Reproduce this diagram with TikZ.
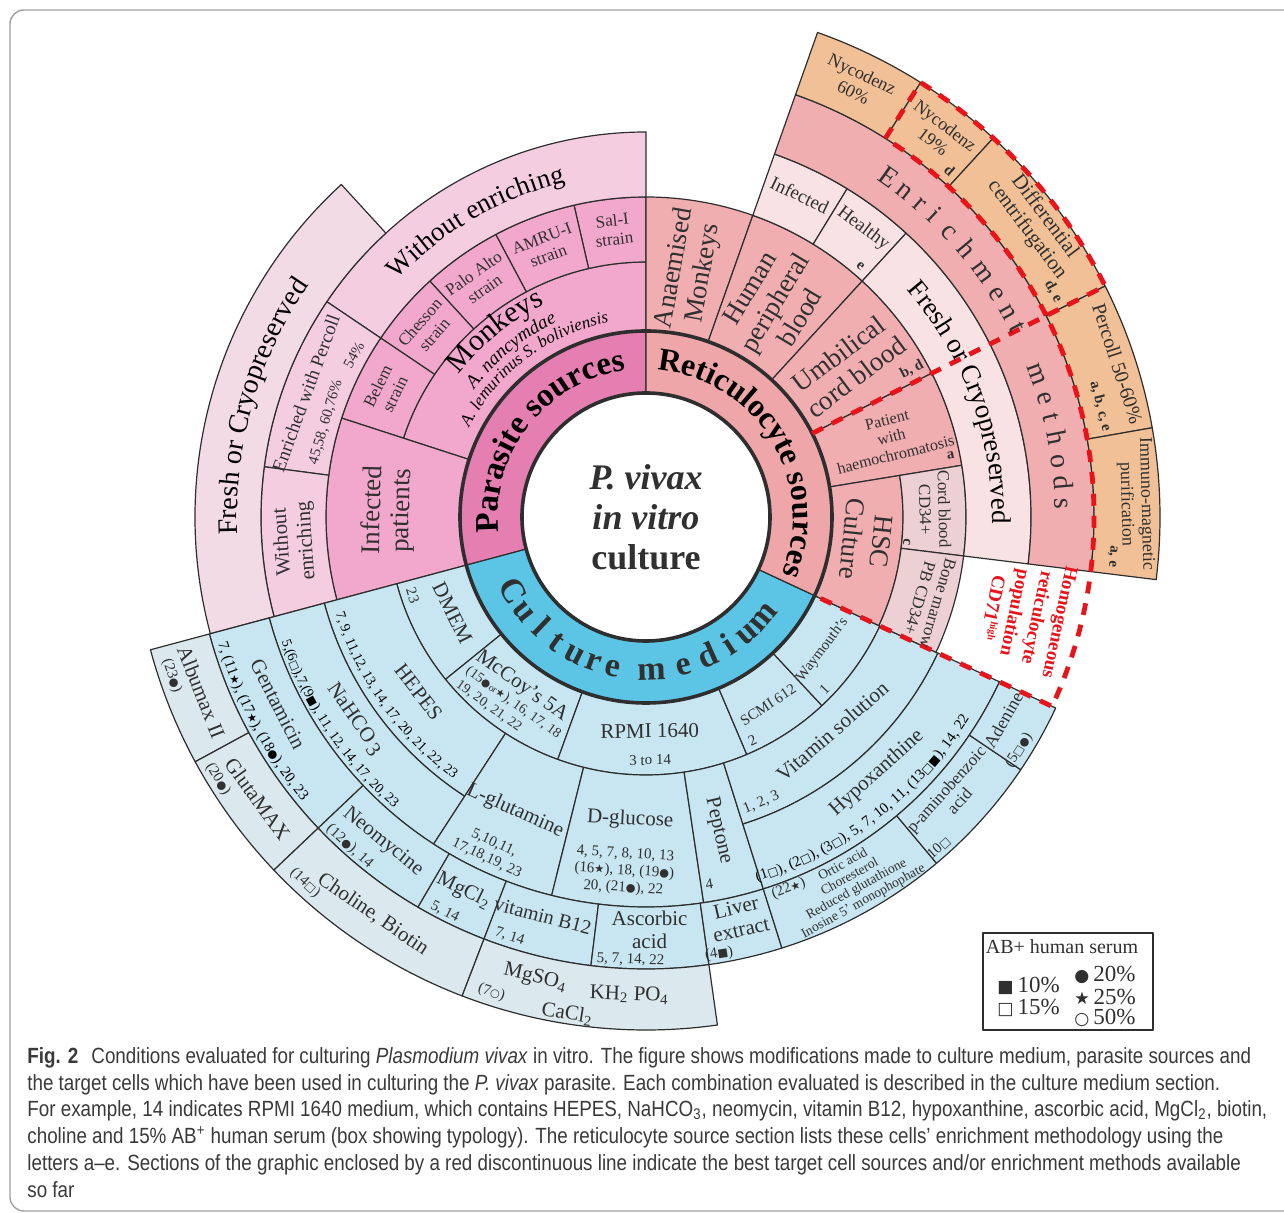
\documentclass[tikz,border=0pt]{standalone}
\usepackage{fontspec}
\usepackage{graphicx}
\setmainfont{Liberation Serif}
\newfontfamily\dejavu{DejaVu Sans}
\newfontfamily\capfont{Liberation Sans}[FakeStretch=0.855]
\usetikzlibrary{decorations.text}

\definecolor{linec}{HTML}{2E2E2E}
\definecolor{txtc}{HTML}{303030}
\definecolor{parring}{HTML}{E57EB1}
\definecolor{parmid}{HTML}{F2A8CC}
\definecolor{parlight}{HTML}{F5CDE0}
\definecolor{parpale}{HTML}{F3DBE6}
\definecolor{retring}{HTML}{EEA6A8}
\definecolor{retmid}{HTML}{F0AEB0}
\definecolor{retpale}{HTML}{F8E2E4}
\definecolor{retmauve}{HTML}{ECD0D3}
\definecolor{orangeb}{HTML}{F1C096}
\definecolor{culring}{HTML}{5CC5E5}
\definecolor{cullight}{HTML}{C8E6F2}
\definecolor{culgrey}{HTML}{DBE9EF}
\definecolor{redd}{HTML}{E8141B}
\definecolor{captc}{HTML}{3A3A3A}
\definecolor{framec}{HTML}{A0A0A0}

\newcommand\bdot{\scalebox{0.75}{\dejavu ●}}
\newcommand\bstar{\scalebox{0.75}{\dejavu ★}}
\newcommand\bsq{\scalebox{0.75}{\dejavu ■}}
\newcommand\wsq{\scalebox{0.75}{\dejavu □}}
\newcommand\wcirc{\scalebox{0.75}{\dejavu ○}}

\newcommand\fbig{\fontsize{13.5}{14.5}\selectfont}
\newcommand\fmid{\fontsize{10.5}{11.5}\selectfont}
\newcommand\fsml{\fontsize{8.5}{9.5}\selectfont}
\newcommand\fnum{\fontsize{7.5}{8.5}\selectfont}
\newcommand\fkey{\bfseries\fontsize{7.5}{8}\selectfont}

% annular cell: start angle, end angle, inner radius, outer radius, fill
\newcommand\wedgecell[5]{%
  \filldraw[cell, fill=#5] (#1:#3) arc[start angle=#1, end angle=#2, radius=#3]
    -- (#2:#4) arc[start angle=#2, end angle=#1, radius=#4] -- cycle;}
% curved text: radius of baseline, centre angle, half span, text
\newcommand\arcout[4]{\path[decorate, color=txtc, decoration={text along path, text align=center, text={#4}}]
  (#2+#3:#1) arc[start angle=#2+#3, end angle=#2-#3, radius=#1];}
\newcommand\arcin[4]{\path[decorate, color=txtc, decoration={text along path, text align=center, text={#4}}]
  (#2-#3:#1) arc[start angle=#2-#3, end angle=#2+#3, radius=#1];}

\begin{document}
\begin{tikzpicture}[x=0.5pt, y=0.5pt, line join=round,
  cell/.style={draw=linec, line width=0.6pt},
  lab/.style={inner sep=0pt, align=center, text=txtc},
  ringline/.style={draw=linec, line width=1.8pt},
  reddash/.style={draw=redd, line width=2.4pt, dash pattern=on 6pt off 5pt},
  capline/.style={anchor=base west, inner sep=0pt, text=captc, font=\capfont\fontsize{11}{12}\selectfont}]

\useasboundingbox (-646,-696) rectangle (638,517);
\fill[white] (-646,-696) rectangle (638,517);
\begin{scope}
  \clip (-646,-696) rectangle (638,517);
  \draw[framec, line width=0.7pt, rounded corners=7pt] (-636,507) rectangle (700,-694);
\end{scope}

% parasite sources
\wedgecell{90}{195}{124}{186}{parring}
\wedgecell{90}{162}{186}{255}{parmid}
\wedgecell{90}{103}{255}{320}{parmid}
\wedgecell{103}{118}{255}{320}{parmid}
\wedgecell{118}{132.5}{255}{320}{parmid}
\wedgecell{132.5}{146}{255}{320}{parmid}
\wedgecell{146}{162}{255}{320}{parmid}
\wedgecell{162}{195}{186}{320}{parmid}
\wedgecell{90}{146}{320}{385}{parlight}
\wedgecell{146}{172.5}{320}{385}{parlight}
\wedgecell{172.5}{195}{320}{385}{parlight}
\wedgecell{132.5}{195}{385}{451}{parpale}

% culture medium
\wedgecell{195}{335}{124}{186}{culring}
\wedgecell{195}{219}{186}{258}{cullight}
\wedgecell{219}{250}{186}{258}{cullight}
\wedgecell{250}{293}{186}{258}{cullight}
\wedgecell{293}{313}{186}{258}{cullight}
\wedgecell{313}{335}{186}{258}{cullight}
\wedgecell{195}{237}{258}{333}{cullight}
\wedgecell{195}{237}{333}{390}{cullight}
\wedgecell{237}{256}{258}{390}{cullight}
\wedgecell{256}{278.5}{258}{390}{cullight}
\wedgecell{278.5}{287.5}{258}{390}{cullight}
\wedgecell{287.5}{335}{258}{322}{cullight}
\wedgecell{287.5}{335}{322}{390}{cullight}
\wedgecell{195}{223.5}{390}{452}{cullight}
\wedgecell{223.5}{239.7}{390}{452}{cullight}
\wedgecell{239.7}{249}{390}{452}{cullight}
\wedgecell{249}{263}{390}{452}{cullight}
\wedgecell{263}{278}{390}{452}{cullight}
\wedgecell{278}{287.5}{390}{452}{cullight}
\wedgecell{287.5}{310}{390}{452}{cullight}
\wedgecell{310}{326}{390}{452}{cullight}
\wedgecell{326}{335}{390}{452}{cullight}
\wedgecell{195}{208.5}{452}{513}{culgrey}
\wedgecell{208.5}{223.5}{452}{513}{culgrey}
\wedgecell{223.5}{249}{452}{513}{culgrey}
\wedgecell{249}{278}{452}{513}{culgrey}

% reticulocyte sources
\wedgecell{-25}{90}{124}{186}{retring}
\wedgecell{70.5}{90}{186}{320}{retmid}
\wedgecell{47.5}{70.5}{186}{320}{retmid}
\wedgecell{26.7}{47.5}{186}{320}{retmid}
\wedgecell{9.3}{26.7}{186}{320}{retmid}
\wedgecell{-25}{9.3}{186}{257}{retmid}
\wedgecell{-7}{9.3}{257}{320}{retmauve}
\wedgecell{-25}{-7}{257}{320}{retmauve}
\wedgecell{58.5}{70.5}{320}{385}{retpale}
\wedgecell{47.5}{58.5}{320}{385}{retpale}
\wedgecell{-7}{47.5}{320}{385}{retpale}
\wedgecell{-7}{70.5}{385}{448}{retmid}
\wedgecell{57.7}{70.5}{448}{514}{orangeb}
\wedgecell{47.5}{57.7}{448}{514}{orangeb}
\wedgecell{26.7}{47.5}{448}{514}{orangeb}
\wedgecell{10}{26.7}{448}{514}{orangeb}
\wedgecell{-7}{10}{448}{514}{orangeb}

\fill[white] (0,0) circle[radius=124];
\draw[ringline] (0,0) circle[radius=124];
\draw[ringline] (0,0) circle[radius=186];

\draw[reddash] (26.7:186) -- (26.7:514) arc[start angle=26.7, end angle=57.7, radius=514]
  -- (57.7:448) arc[start angle=57.7, end angle=-25, radius=448] -- (-25:186);

% centre and ring titles
\node[lab, font=\bfseries\fontsize{18}{20}\selectfont] (title) at (0,0) {\textit{P. vivax}\\\textit{in vitro}\\culture};
\arcout{148}{142}{60}{|\bfseries\fontsize{16.5}{16.5}\selectfont|Parasite sources}
\arcout{147}{31.5}{65}{|\bfseries\fontsize{16}{16}\selectfont|Reticulocyte sources}
\foreach \a/\c [count=\i] in {209/C,218/u,226.5/l,234.5/t,242.5/u,250/r,257.5/e,272/m,284/e,294/d,303/i,311/u,319.5/m}
  \node[lab, anchor=base, rotate=\a+90, font=\bfseries\fontsize{17}{17}\selectfont] (cm\i) at (\a:163) {\c};

% parasite labels
\arcout{235}{129}{40}{|\fontsize{15}{15}\selectfont|Monkeys}
\arcout{214}{129}{40}{|\itshape\fontsize{9.5}{9.5}\selectfont|A. nancymdae}
\arcout{198}{127}{40}{|\itshape\fontsize{8.5}{8.5}\selectfont|A. lemurinus S. boliviensis}
\node[lab, font=\fsml, rotate=6.5] (sal) at (96.5:289) {Sal-I\\strain};
\node[lab, font=\fsml, rotate=20.5] (amru) at (110.5:288) {AMRU-I\\strain};
\node[lab, font=\fsml, rotate=35.3] (palo) at (125.3:289) {Palo Alto\\strain};
\node[lab, font=\fsml, rotate=49.3] (chesson) at (139.3:289) {Chesson\\strain};
\node[lab, font=\fsml, rotate=64] (belem) at (154:289) {Belem\\strain};
\node[lab, font=\fbig, rotate=88.5] (infpat) at (178.5:258) {Infected\\patients};
\node[lab, font=\fontsize{10.5}{12}\selectfont, rotate=94] (woenr) at (184:352) {Without\\enriching};
\node[lab, font=\fontsize{9.5}{10}\selectfont, rotate=70] (enrperc) at (160:362) {Enriched with Percoll};
\node[lab, font=\fnum, rotate=73.5] (perc1) at (163.5:334) {45,58, 60,76\%};
\node[lab, font=\fnum, rotate=61] (perc2) at (151:334) {54\%};
\arcout{344}{120}{40}{|\fontsize{13.5}{13.5}\selectfont|Without enriching}
\arcout{409}{164}{50}{|\fontsize{14}{14}\selectfont|Fresh or Cryopreserved}

% reticulocyte labels
\node[lab, font=\fbig, rotate=80] (anaem) at (80:250) {Anaemised\\Monkeys};
\node[lab, font=\fbig, rotate=59] (hpb) at (59:250) {Human\\peripheral\\blood};
\node[lab, font=\fbig, rotate=37] (ucb) at (37:252) {Umbilical\\cord blood};
\node[lab, font=\fkey, rotate=28] (kbd) at (29:304) {b, d};
\node[lab, font=\fontsize{8}{9}\selectfont, rotate=14] (hemo) at (18:258) {Patient\\with\\haemochromatosis};
\node[lab, font=\fkey, rotate=11] (ka) at (11.5:311) {a};
\node[lab, font=\fbig, rotate=-96] (hsc) at (-6:222) {HSC\\Culture};
\node[lab, font=\fsml, rotate=-88.5] (cbcd) at (1.5:289) {Cord blood\\CD34+};
\node[lab, font=\fkey, rotate=-95] (kc) at (-5.5:262) {c};
\node[lab, font=\fsml, rotate=-106.5] (bmcd) at (-16.5:295) {Bone marrow\\PB CD34+};
\node[lab, font=\fontsize{9.5}{10}\selectfont, rotate=-25.5] (infect) at (64.5:357) {Infected};
\node[lab, font=\fontsize{9.5}{10}\selectfont, rotate=-37] (healthy) at (53:361) {Healthy};
\node[lab, font=\fkey, rotate=-41] (ke) at (49.5:330) {e};
\arcout{346}{20}{60}{|\fontsize{13.5}{13.5}\selectfont|Fresh or Cryopreserved}
\foreach \a/\c [count=\i] in {54.5/E,51.6/n,48.8/r,46.3/i,43.2/c,39.8/h,36/m,32.4/e,29.5/n,27/t,20.1/m,16.6/e,13.8/t,10.9/h,7.7/o,4.7/d,1.8/s}
  \node[lab, anchor=base, rotate=\a-90, font=\fontsize{14}{14}\selectfont] (em\i) at (\a:409) {\c};
\node[lab, font=\fontsize{9}{10}\selectfont, rotate=-26] (nyc60) at (64:483) {Nycodenz\\60\%};
\node[lab, font=\fontsize{9}{10}\selectfont, rotate=-37.4] (nyc19) at (52.6:483) {Nycodenz\\19\%};
\node[lab, font=\fkey, rotate=-41.5] (kd) at (48.8:461) {d};
\node[lab, font=\fontsize{10.5}{11}\selectfont, rotate=-53] (diff) at (37:488) {Differential\\centrifugation};
\node[lab, font=\fkey, rotate=-61.5] (kde) at (29:466) {d, e};
\node[lab, font=\fontsize{10}{10}\selectfont, rotate=-72] (perc) at (18:496) {Percoll 50-60\%};
\node[lab, font=\fkey, rotate=-76] (kabce) at (13.7:468) {a, b, c, e};
\node[lab, font=\fontsize{9}{10}\selectfont, rotate=-88.5] (immuno) at (1.5:490) {Immuno-magnetic\\purification};
\node[lab, font=\fkey, rotate=-95] (kae) at (-4.8:468) {a, e};
\node[lab, font=\bfseries\fontsize{9.5}{11.5}\selectfont, text=redd, rotate=-102] (homog) at (-14.5:393)
  {Homogeneous\\reticulocyte\\population\\CD71\textsuperscript{\fontsize{5}{5}\selectfont high}};

% culture medium labels
\node[lab, font=\fmid, rotate=296.4] (dmem) at (206.4:216) {DMEM};
\node[lab, font=\fnum, rotate=288.6] (n23) at (198.6:246) {23};
\node[lab, font=\fontsize{7}{8.5}\selectfont, align=left, rotate=324.5] (mccoy) at (234.5:226) {{\fmid McCoy's 5A}\\(15\bdot{\fontsize{5}{5}\selectfont or}\bstar), 16, 17, 18\\19, 20, 21, 22};
\node[lab, font=\fmid, rotate=1] (rpmi) at (271:214) {RPMI 1640};
\node[lab, font=\fnum, rotate=1] (n314) at (271:243) {3 to 14};
\node[lab, font=\fnum, rotate=33] (scmi) at (303:224) {SCMI 612};
\node[lab, font=\fnum, rotate=25.5] (n2) at (295.5:247) {2};
\node[lab, font=\fnum, rotate=53] (waym) at (323:221) {Waymouth's};
\node[lab, font=\fnum, rotate=46] (n1) at (316:248) {1};
\node[lab, font=\fmid, rotate=307.6] (hepes) at (217.6:287) {HEPES};
\arcin{325}{215.5}{40}{|\fontsize{7}{7}\selectfont|7, 9, 11,12, 13, 14, 17, 20, 21, 22, 23}
\node[lab, font=\fmid, rotate=304.8] (nahco) at (214.8:355) {NaHCO\,\raisebox{-0.4ex}{3}};
\arcin{385}{214}{40}{|\fontsize{7}{7}\selectfont|5,(6{\wsq}),7,(9{\bsq}), 11, 12, 14, 17, 20, 23}
\node[lab, font=\fmid, rotate=297] (genta) at (207:413) {Gentamicin};
\arcin{446}{208}{40}{|\fnum|7, (11{\bstar}), (17{\bstar}), (18{\bdot}), 20, 23}
\node[lab, font=\fmid, rotate=291.5] (albu) at (201.5:478) {Albumax II};
\node[lab, font=\fnum, rotate=288.5] (n23b) at (198.5:500) {(23\bdot)};
\node[lab, font=\fmid, rotate=306] (gluta) at (216:480) {GlutaMAX};
\node[lab, font=\fnum, rotate=301.5] (n20) at (211.5:502) {(20\bdot)};
\node[lab, font=\fmid, rotate=325.5] (cholin) at (235.5:482) {Choline, Biotin};
\node[lab, font=\fnum, rotate=317] (n14) at (227:500) {(14\wsq)};
\node[lab, font=\fmid, rotate=346.5] (mgso) at (256.5:474) {MgSO\textsubscript{4}};
\node[lab, font=\fmid, rotate=358] (khpo) at (268:478) {KH\textsubscript{2} PO\textsubscript{4}};
\node[lab, font=\fmid, rotate=351] (cacl) at (261:503) {CaCl\textsubscript{2}};
\node[lab, font=\fnum, rotate=342] (n7) at (252:500) {(7\wcirc)};
\node[lab, font=\fmid, rotate=336] (lglu) at (246:322) {L-glutamine};
\node[lab, font=\fnum, rotate=335] (lglun) at (245:368) {5,10,11,\\17,18,19, 23};
\node[lab, font=\fmid, rotate=357] (dglu) at (267:303) {D-glucose};
\node[lab, font=\fnum, rotate=356.5] (dglun) at (266.5:355) {4, 5, 7, 8, 10, 13\\(16\bstar), 18, (19\bdot)\\20, (21\bdot), 22};
\node[lab, font=\fmid, rotate=283] (pept) at (283:322) {Peptone};
\node[lab, font=\fnum, rotate=9.5] (n4) at (279.8:372) {4};
\node[lab, font=\fmid, rotate=41] (vitsol) at (311:284) {Vitamin solution};
\node[lab, font=\fnum, rotate=22] (n123) at (292:308) {1, 2, 3};
\node[lab, font=\fmid, rotate=42] (hypox) at (312:345) {Hypoxanthine};
\arcin{381}{307.5}{40}{|\fnum|(1{\wsq}), (2{\wsq}), (3{\wsq}), 5, 7, 10, 11, (13{\wsq}{\bsq}), 14, 22}
\node[lab, font=\fmid, rotate=321] (neomy) at (231:418) {Neomycine};
\node[lab, font=\fnum, rotate=318] (n12) at (228:443) {(12\bdot), 14};
\node[lab, font=\fmid, rotate=334] (mgcl) at (244:416) {MgCl\textsubscript{2}};
\node[lab, font=\fnum, rotate=333] (n514) at (243:443) {5, 14};
\node[lab, font=\fontsize{10}{11}\selectfont, rotate=345.5] (vitb) at (255.5:412) {vitamin B12};
\node[lab, font=\fnum, rotate=342] (n714) at (252:441) {7, 14};
\node[lab, font=\fmid, rotate=0] (ascorb) at (270.5:413) {Ascorbic\\acid};
\node[lab, font=\fnum, rotate=358] (nasc) at (268:443) {5, 7, 14, 22};
\node[lab, font=\fmid, rotate=13] (liver) at (283:412) {Liver\\extract};
\node[lab, font=\fnum, rotate=9] (n4b) at (279.5:443) {(4\bsq)};
\node[lab, font=\fnum, rotate=21] (n22) at (291:398) {(22\bstar)};
\node[lab, font=\fontsize{6.8}{7}\selectfont, rotate=29] (ortic) at (299.5:421) {Ortic acid\\Choresterol\\Reduced glutathione\\Inosine 5' monophophate};
\node[lab, font=\fontsize{8.5}{9}\selectfont, rotate=48] (paba) at (317.8:414) {p-aminobenzoic\\acid};
\node[lab, font=\fnum, rotate=41.5] (n10) at (311.5:442) {10\wsq};
\node[lab, font=\fontsize{9}{10}\selectfont, rotate=60.5] (adenine) at (330.4:411) {Adenine};
\node[lab, font=\fnum, rotate=57.5] (n5) at (328:440) {(5\wsq\bdot)};

% legend
\node[draw=linec, line width=0.9pt, minimum width=85pt, minimum height=48.5pt, inner sep=0pt] (legend) at (422,-464.5) {};
\node[lab, font=\fontsize{10}{10}\selectfont] (legtitle) at (416,-430) {AB+ human serum};
\node[lab, anchor=west, font=\fontsize{11.5}{12}\selectfont] (leg10) at (351,-469) {\bsq\,10\%};
\node[lab, anchor=west, font=\fontsize{11.5}{12}\selectfont] (leg15) at (351,-491) {\wsq\,15\%};
\node[lab, anchor=west, font=\fontsize{11.5}{12}\selectfont] (leg20) at (428,-458) {\bdot\,20\%};
\node[lab, anchor=west, font=\fontsize{11.5}{12}\selectfont] (leg25) at (428,-480) {\bstar\,25\%};
\node[lab, anchor=west, font=\fontsize{11.5}{12}\selectfont] (leg50) at (428,-501) {\wcirc\,50\%};

% caption
\node[capline] (cap1) at (-619,-546) {\textbf{Fig. 2}\hspace{0.6em}Conditions evaluated for culturing \textit{Plasmodium vivax} in vitro. The figure shows modifications made to culture medium, parasite sources and};
\node[capline] (cap2) at (-619,-573) {the target cells which have been used in culturing the \textit{P. vivax} parasite. Each combination evaluated is described in the culture medium section.};
\node[capline] (cap3) at (-619,-599) {For example, 14 indicates RPMI 1640 medium, which contains HEPES, NaHCO\textsubscript{3}, neomycin, vitamin B12, hypoxanthine, ascorbic acid, MgCl\textsubscript{2}, biotin,};
\node[capline] (cap4) at (-619,-626) {choline and 15\% AB\textsuperscript{+} human serum (box showing typology). The reticulocyte source section lists these cells’ enrichment methodology using the};
\node[capline] (cap5) at (-619,-653) {letters a–e. Sections of the graphic enclosed by a red discontinuous line indicate the best target cell sources and/or enrichment methods available};
\node[capline] (cap6) at (-619,-680) {so far};
\end{tikzpicture}
\end{document}
